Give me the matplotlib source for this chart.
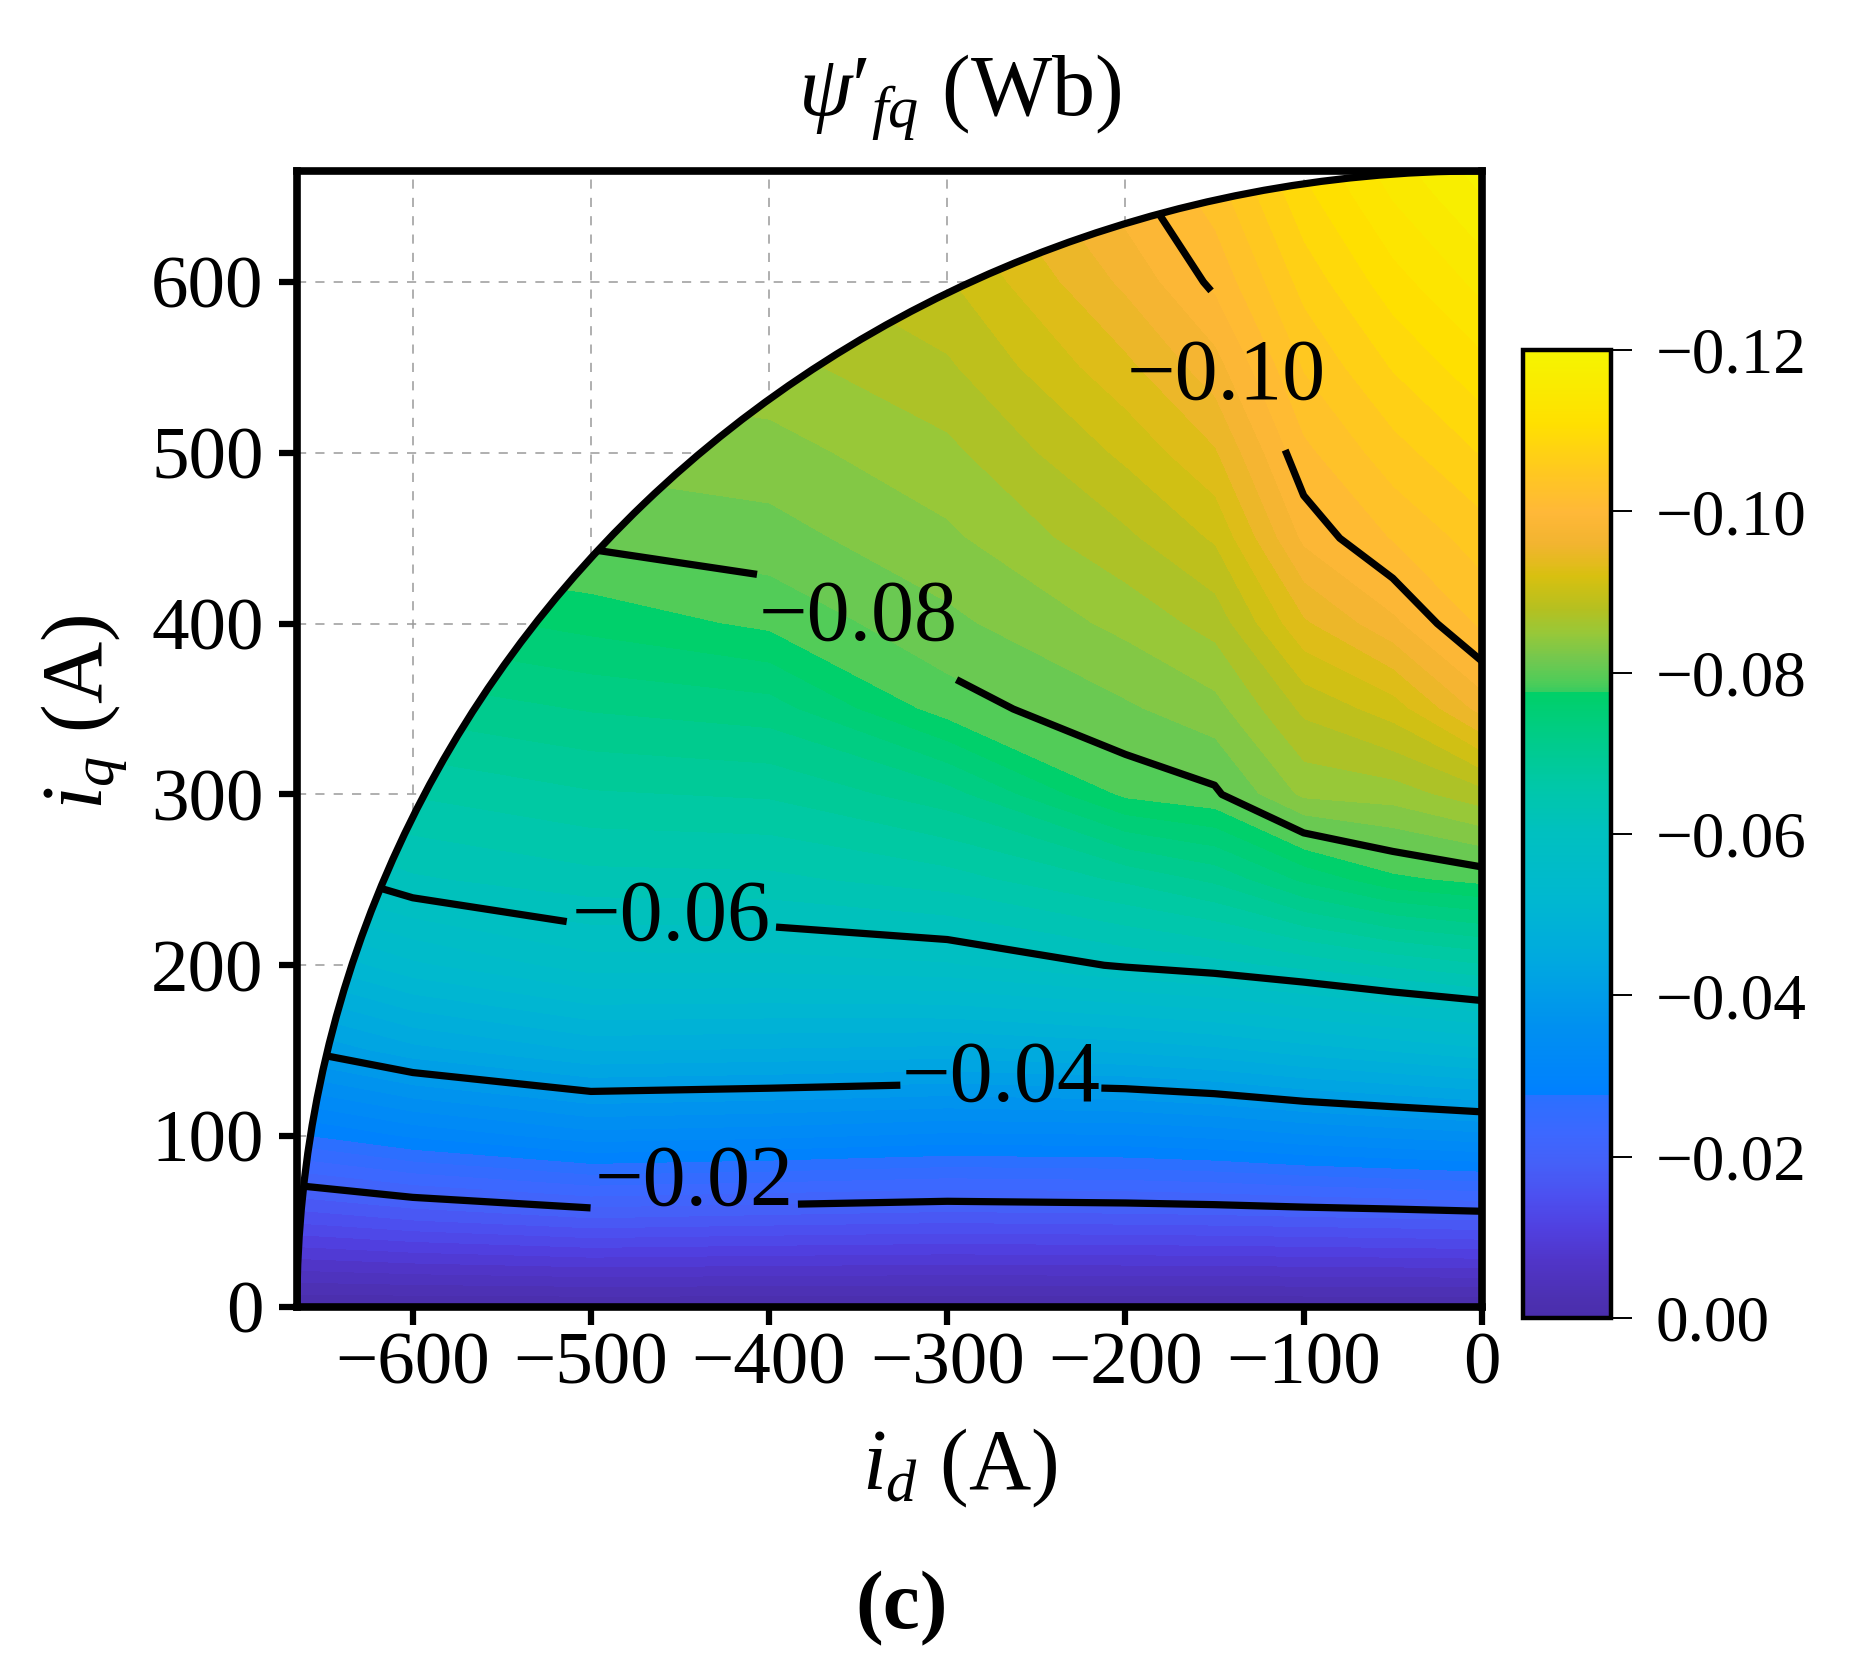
import numpy as np
import matplotlib
matplotlib.use('Agg')
import matplotlib.pyplot as plt
from matplotlib.colors import LinearSegmentedColormap, Normalize
from matplotlib.cm import ScalarMappable
from matplotlib.patches import Wedge, Arc
from matplotlib.ticker import FuncFormatter

plt.rcParams['font.family'] = 'Liberation Serif'
plt.rcParams['mathtext.fontset'] = 'custom'
plt.rcParams['mathtext.rm'] = 'Liberation Serif'
plt.rcParams['mathtext.it'] = 'Liberation Serif:italic'
plt.rcParams['mathtext.bf'] = 'Liberation Serif:bold'

# grid (A)
i_d = [-700, -600, -500, -400, -300, -200, -150, -100, -50, 0]
i_q = [0, 50, 100, 150, 200, 250, 300, 350, 400, 450, 500, 550, 600, 650, 700]

# psi'_fq (Wb), one row per i_q value, columns follow i_d
psi_fq = [
    [0, 0, 0, 0, 0, 0, 0, 0, 0, 0],
    [-0.0137, -0.0159, -0.0175, -0.0169, -0.0164, -0.0167, -0.0169, -0.0172, -0.0175, -0.0179],
    [-0.0264, -0.0304, -0.0332, -0.0326, -0.0316, -0.0319, -0.0326, -0.0338, -0.0346, -0.0354],
    [-0.0381, -0.0433, -0.0462, -0.0458, -0.0454, -0.0465, -0.0475, -0.0490, -0.0503, -0.0516],
    [-0.0476, -0.0536, -0.0571, -0.0571, -0.0578, -0.0603, -0.0613, -0.0627, -0.0644, -0.0659],
    [-0.0567, -0.0617, -0.0633, -0.0635, -0.0651, -0.0684, -0.0705, -0.0745, -0.0775, -0.0787],
    [-0.0629, -0.0662, -0.0678, -0.0683, -0.0712, -0.0785, -0.0796, -0.0845, -0.0850, -0.0873],
    [-0.0673, -0.0707, -0.0722, -0.0731, -0.0790, -0.0817, -0.0833, -0.0885, -0.0910, -0.0968],
    [-0.0718, -0.0751, -0.0767, -0.0785, -0.0815, -0.0846, -0.0868, -0.0937, -0.0975, -0.1025],
    [-0.0763, -0.0796, -0.0805, -0.0812, -0.0836, -0.0876, -0.0903, -0.0985, -0.1022, -0.1050],
    [-0.0800, -0.0817, -0.0826, -0.0832, -0.0855, -0.0905, -0.0938, -0.1015, -0.1052, -0.1082],
    [-0.0820, -0.0838, -0.0846, -0.0853, -0.0877, -0.0935, -0.0972, -0.1042, -0.1082, -0.1114],
    [-0.0840, -0.0858, -0.0867, -0.0873, -0.0898, -0.0965, -0.1005, -0.1068, -0.1112, -0.1147],
    [-0.0860, -0.0879, -0.0887, -0.0894, -0.0920, -0.0990, -0.1030, -0.1094, -0.1142, -0.1180],
    [-0.0880, -0.0899, -0.0908, -0.0914, -0.0941, -0.1015, -0.1055, -0.1120, -0.1172, -0.1210],
]

current_limit = 665
line_levels = [-0.10, -0.08, -0.06, -0.04, -0.02]
label_spots = [(-150, 540), (-350, 400), (-455, 213), (-270, 127), (-442, 58)]
label_gaps = [-16, 8, 0, -4, -1]
label_shift = [(-14, -5), (0, 3), (0, 4), (0, 3), (0, 13)]
cbar_ticks = [0.00, -0.02, -0.04, -0.06, -0.08, -0.10, -0.12]

# colour stops picked off the colour bar (value, colour)
cmap_stops = [
    (-0.1200, '#f5f500'), (-0.1110, '#ffe000'), (-0.1050, '#ffc820'),
    (-0.1000, '#ffb838'), (-0.0960, '#f2b430'), (-0.0920, '#d8c010'),
    (-0.0880, '#b5c020'), (-0.0850, '#98c838'), (-0.0815, '#70c850'),
    (-0.0790, '#50cc58'), (-0.0777, '#38cc60'), (-0.0775, '#00d068'),
    (-0.0720, '#00cc88'), (-0.0660, '#00c8a8'), (-0.0600, '#00c0c0'),
    (-0.0520, '#00b8d0'), (-0.0440, '#00a8e0'), (-0.0360, '#0090f0'),
    (-0.0277, '#0080ff'), (-0.0275, '#2a70ff'), (-0.0230, '#3c68ff'),
    (-0.0190, '#4560f8'), (-0.0150, '#4c50f0'), (-0.0110, '#5040e0'),
    (-0.0070, '#5035c8'), (-0.0020, '#4c30b0'), (0.0000, '#4a2eac'),
]

vmin, vmax = -0.12, 0.0
cmap = LinearSegmentedColormap.from_list(
    'psi', [((v - vmin) / (vmax - vmin), c) for v, c in cmap_stops], N=512)
norm = Normalize(vmin, vmax)


def fmt_minus(v, pos=None):
    if abs(v) < 1e-9:
        v = 0.0
    return f'{v:.2f}'.replace('-', '\u2212')


fig = plt.figure(figsize=(18.71, 16.79), dpi=100)
ax = fig.add_axes([0.1587, 0.2216, 0.6333, 0.6766])
cax = fig.add_axes([0.814, 0.2150, 0.047, 0.5765])

ID, IQ = np.meshgrid(i_d, i_q)
Z = np.array(psi_fq)

ax.set_axisbelow(True)
ax.grid(True, ls=(0, (6, 6)), color='#9a9a9a', lw=1.1)

sector = Wedge((0, 0), current_limit, 90, 180, transform=ax.transData)
cf = ax.contourf(ID, IQ, Z, levels=np.arange(-0.124, 0.0021, 0.002),
                 cmap=cmap, norm=norm, extend='both')
cf.set_clip_path(sector)

# each level drawn on its own so its label gap can be tuned
for lev, spot, gap, (dx, dy) in zip(line_levels, label_spots, label_gaps, label_shift):
    cl = ax.contour(ID, IQ, Z, levels=[lev], colors='k',
                    linewidths=5.2, linestyles='solid')
    cl.set_clip_path(sector)
    texts = ax.clabel(cl, inline=True, fmt=fmt_minus, fontsize=62,
                      manual=[spot], inline_spacing=gap)
    for t in texts:
        t.set_rotation(0)
        x, y = t.get_position()
        t.set_position((x + dx, y + dy))

ax.add_patch(Arc((0, 0), 2 * current_limit, 2 * current_limit,
                 theta1=90, theta2=180, color='k', lw=5.2, zorder=4))

ax.set_xlim(-665, 0)
ax.set_ylim(0, 665)
ax.set_xticks(range(-600, 1, 100))
ax.set_yticks(range(0, 601, 100))
for s in ax.spines.values():
    s.set_linewidth(5.5)
ax.tick_params(direction='out', length=13, width=4.5, labelsize=54)
ax.tick_params(axis='x', pad=5)
ax.tick_params(axis='y', pad=11)

sm = ScalarMappable(norm=norm, cmap=cmap)
cb = fig.colorbar(sm, cax=cax)
cb.ax.invert_yaxis()
cb.set_ticks(cbar_ticks)
cb.ax.yaxis.set_major_formatter(FuncFormatter(fmt_minus))
cb.ax.tick_params(direction='out', length=15, width=1.4, labelsize=47, pad=17)
cb.outline.set_linewidth(3.2)

fig.text(0.513, 0.9315, r"$\psi\prime_{fq}$ (Wb)", fontsize=62, ha='center', va='baseline')
fig.text(0.513, 0.1126, r"$i_d$ (A)", fontsize=62, ha='center', va='baseline')
fig.text(0.045, 0.576, r"$i_q$ (A)", fontsize=62, ha='center', va='center', rotation=90)
fig.text(0.482, 0.0304, '(c)', fontsize=60, fontweight='bold', ha='center', va='baseline')

fig.savefig('out.png', dpi=100)
